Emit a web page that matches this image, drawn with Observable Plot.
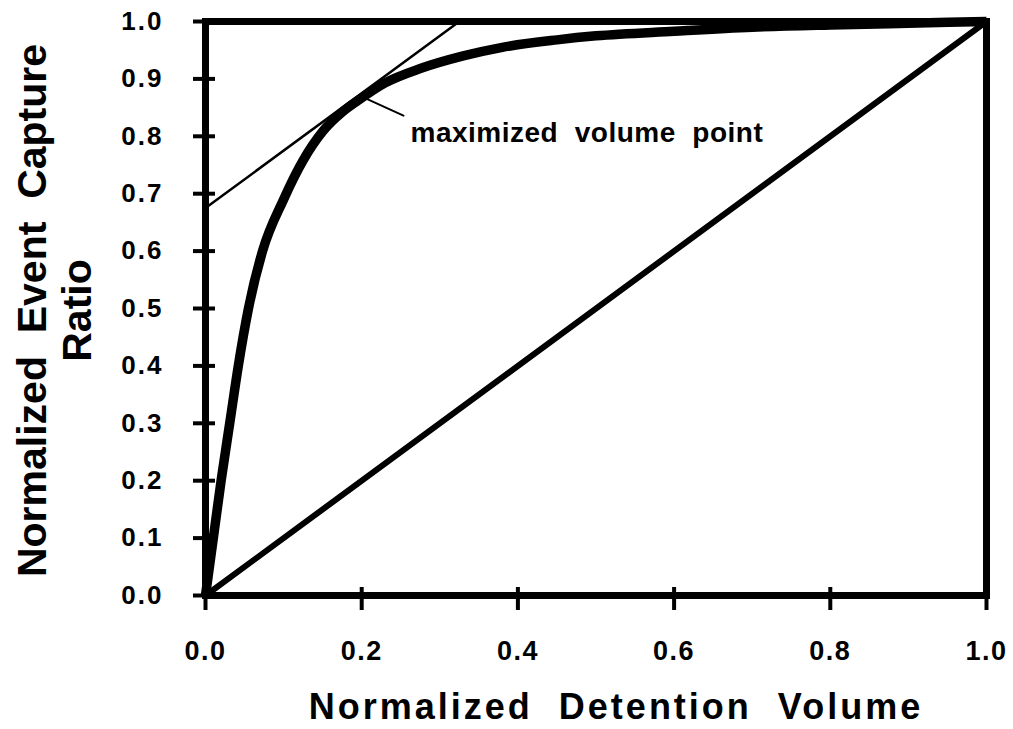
<!DOCTYPE html>
<html>
<head>
<meta charset="utf-8">
<script src="https://cdn.jsdelivr.net/npm/d3@7"></script>
<script src="https://cdn.jsdelivr.net/npm/@observablehq/plot@0.6"></script>
<style>
  body { margin: 0; background: white; }
  svg text { white-space: pre; }
  g[aria-label="x-axis tick label"] text { letter-spacing: 1.5px; }
  g[aria-label="y-axis tick label"] text { letter-spacing: 2px; }
  .xtitle text { letter-spacing: 3px; }
  .annot text { letter-spacing: 0.5px; }
</style>
</head>
<body>
<div id="chart"></div>
<script>
// Thick capture curve
const curveX = [0, 0.01, 0.02, 0.031, 0.042, 0.055, 0.073, 0.1, 0.125, 0.151, 0.175, 0.195, 0.23, 0.275, 0.33, 0.38, 0.45, 0.5, 0.6, 0.7, 0.8, 0.9, 1.0];
const curveY = [0, 0.1, 0.2, 0.3, 0.4, 0.5, 0.6, 0.69, 0.758, 0.81, 0.842, 0.862, 0.893, 0.918, 0.94, 0.955, 0.968, 0.975, 0.983, 0.99, 0.994, 0.997, 1.0];
// 1:1 line
const diagX = [0, 1];
const diagY = [0, 1];
// tangent line
const tangentX = [0, 0.325];
const tangentY = [0.675, 1.0];
// annotation
const annotText = "maximized  volume  point";
const annotX = 0.2625;
const annotY = 0.805;
const pointerX = [0.205, 0.2535];
const pointerY = [0.866, 0.836];
// axes
const xTicks = [0, 0.2, 0.4, 0.6, 0.8, 1.0];
const yTicks = [0, 0.1, 0.2, 0.3, 0.4, 0.5, 0.6, 0.7, 0.8, 0.9, 1.0];
const xTitle = "Normalized  Detention  Volume";
const yTitleLine1 = "Normalized  Event  Capture";
const yTitleLine2 = "Ratio";

const curve = curveX.map((x, i) => ({x, y: curveY[i]}));
const diag = diagX.map((x, i) => ({x, y: diagY[i]}));
const tangent = tangentX.map((x, i) => ({x, y: tangentY[i]}));
const pointer = pointerX.map((x, i) => ({x, y: pointerY[i]}));

const font = "'Liberation Sans', Arial, Helvetica, sans-serif";

const chart = Plot.plot({
  width: 1013,
  height: 729,
  marginLeft: 205,
  marginRight: 27,
  marginTop: 21,
  marginBottom: 134,
  style: {fontFamily: font, background: "white", color: "black"},
  x: {domain: [0, 1]},
  y: {domain: [0, 1]},
  marks: [
    Plot.line(diag, {x: "x", y: "y", stroke: "black", strokeWidth: 6}),
    Plot.line(tangent, {x: "x", y: "y", stroke: "black", strokeWidth: 2.5}),
    Plot.line(curve, {x: "x", y: "y", stroke: "black", strokeWidth: 9.5, curve: "monotone-x", strokeLinecap: "butt"}),
    Plot.line(pointer, {x: "x", y: "y", stroke: "black", strokeWidth: 2}),
    Plot.text([annotText], {x: () => annotX, y: () => annotY, text: d => d, textAnchor: "start", lineAnchor: "middle", fontSize: 28, fontWeight: "bold", fill: "black", className: "annot"}),
    Plot.frame({stroke: "black", strokeWidth: 7}),
    Plot.axisX({ticks: xTicks, tickFormat: d3.format(".1f"), tickSize: 23, dy: -8, tickPadding: 30, strokeWidth: 4, fontSize: 27, fontWeight: "bold", label: null}),
    Plot.axisY({ticks: yTicks, tickFormat: d3.format(".1f"), tickSize: 22, dx: 10, tickPadding: 30, strokeWidth: 4, fontSize: 26, fontWeight: "bold", label: null}),
    Plot.text([xTitle], {frameAnchor: "bottom", text: d => d, textAnchor: "middle", dx: 20, dy: 112, lineAnchor: "middle", fontSize: 36, fontWeight: "bold", fill: "black", className: "xtitle"}),
    Plot.text([yTitleLine1], {frameAnchor: "left", text: d => d, textAnchor: "middle", rotate: -90, dx: -173, dy: 2, lineAnchor: "middle", fontSize: 41, fontWeight: "bold", fill: "black"}),
    Plot.text([yTitleLine2], {frameAnchor: "left", text: d => d, textAnchor: "middle", rotate: -90, dx: -128, dy: 2, lineAnchor: "middle", fontSize: 41, fontWeight: "bold", fill: "black"})
  ]
});
document.getElementById("chart").appendChild(chart);
</script>
</body>
</html>
